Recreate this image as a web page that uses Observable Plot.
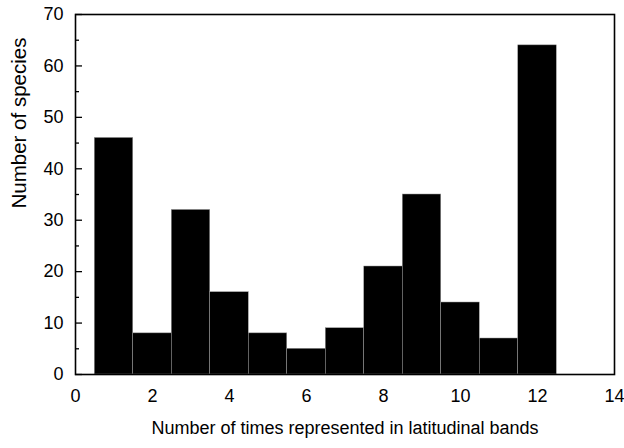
<!DOCTYPE html>
<html>
<head>
<meta charset="utf-8">
<script src="https://cdn.jsdelivr.net/npm/d3@7"></script>
<script src="https://cdn.jsdelivr.net/npm/@observablehq/plot@0.6"></script>
<style>
  html, body { margin: 0; padding: 0; background: #fff; }
  #chart { width: 624px; height: 448px; }
</style>
</head>
<body>
<div id="chart"></div>
<script>
const bands = [1, 2, 3, 4, 5, 6, 7, 8, 9, 10, 11, 12];
const species = [46, 8, 32, 16, 8, 5, 9, 21, 35, 14, 7, 64];
const xTicks = [0, 2, 4, 6, 8, 10, 12, 14];
const yTicks = [0, 10, 20, 30, 40, 50, 60, 70];
const yMinor = [5, 15, 25, 35, 45, 55, 65];

const data = bands.map((b, i) => ({band: b, count: species[i]}));
const FONT = "'Liberation Sans', Arial, Helvetica, sans-serif";
const W = 624, ML = 75, MR = 10;
const frameW = W - ML - MR;

const chart = Plot.plot({
  width: W,
  height: 448,
  marginLeft: ML,
  marginRight: MR,
  marginTop: 14,
  marginBottom: 74,
  style: {fontFamily: FONT, fontSize: "15px", color: "#000", background: "#fff"},
  x: {domain: [0, 14], axis: null},
  y: {domain: [0, 70], axis: null},
  marks: [
    Plot.rectY(data, {x1: d => d.band - 0.5, x2: d => d.band + 0.5, y: "count", fill: "#000", stroke: "#999", strokeWidth: 0.5}),
    Plot.text(yTicks, {y: d => d, frameAnchor: "left", textAnchor: "end", dx: -12, text: d => String(d), fontSize: 18}),
    Plot.tickY(yTicks, {y: d => d, insetRight: frameW - 7, stroke: "#000", strokeWidth: 1.3}),
    Plot.tickY(yMinor, {y: d => d, insetRight: frameW - 4, stroke: "#000", strokeWidth: 1.3}),
    Plot.text(xTicks, {x: d => d, frameAnchor: "bottom", lineAnchor: "top", dy: 15, text: d => String(d), fontSize: 18}),
    Plot.frame({stroke: "#000", strokeWidth: 1.6}),
    Plot.text(["Number of times represented in latitudinal bands"], {frameAnchor: "bottom", dy: 59, fontSize: 18}),
    Plot.text(["Number of species"], {frameAnchor: "left", dx: -56, dy: 14, rotate: -90, fontSize: 20.5})
  ]
});
document.getElementById("chart").appendChild(chart);
</script>
</body>
</html>
